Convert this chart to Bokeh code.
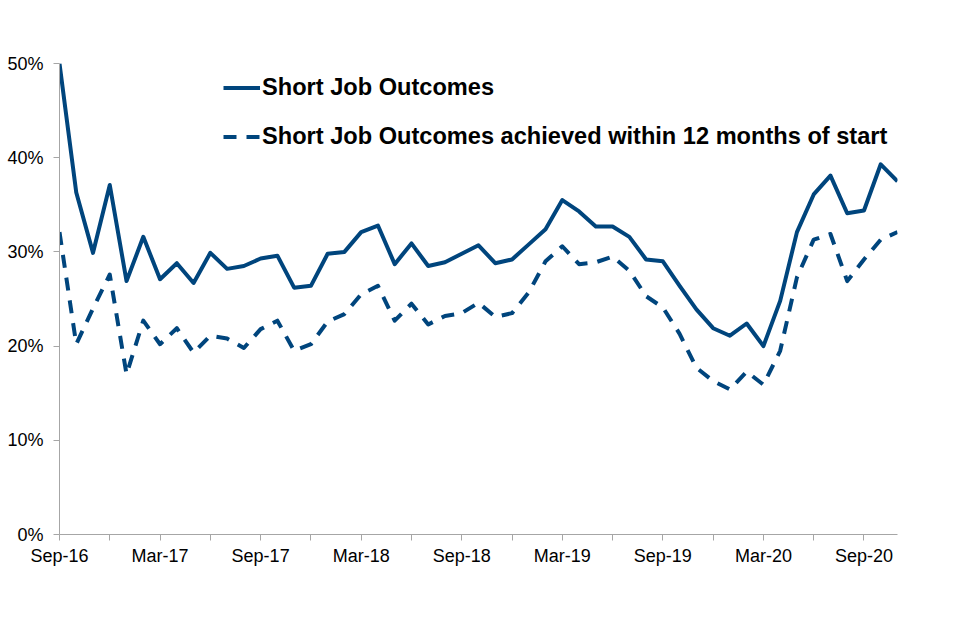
from bokeh.plotting import figure
from bokeh.models import Range1d, FixedTicker, PrintfTickFormatter, Legend, LegendItem
from bokeh.embed import file_html
from bokeh.resources import INLINE

# ---- data ----
months = [
    "Sep-16", "Oct-16", "Nov-16", "Dec-16", "Jan-17", "Feb-17", "Mar-17", "Apr-17", "May-17", "Jun-17",
    "Jul-17", "Aug-17", "Sep-17", "Oct-17", "Nov-17", "Dec-17", "Jan-18", "Feb-18", "Mar-18", "Apr-18",
    "May-18", "Jun-18", "Jul-18", "Aug-18", "Sep-18", "Oct-18", "Nov-18", "Dec-18", "Jan-19", "Feb-19",
    "Mar-19", "Apr-19", "May-19", "Jun-19", "Jul-19", "Aug-19", "Sep-19", "Oct-19", "Nov-19", "Dec-19",
    "Jan-20", "Feb-20", "Mar-20", "Apr-20", "May-20", "Jun-20", "Jul-20", "Aug-20", "Sep-20", "Oct-20",
    "Nov-20",
]
short_job_outcomes = [
    50.0, 36.3, 29.9, 37.1, 26.9, 31.6, 27.1, 28.8, 26.7, 29.9,
    28.2, 28.5, 29.3, 29.6, 26.2, 26.4, 29.8, 30.0, 32.1, 32.8,
    28.7, 30.9, 28.5, 28.9, 29.8, 30.7, 28.8, 29.2, 30.8, 32.4,
    35.5, 34.3, 32.7, 32.7, 31.6, 29.2, 29.0, 26.4, 23.9, 21.9,
    21.1, 22.4, 20.0, 24.8, 32.1, 36.1, 38.1, 34.1, 34.4, 39.3,
    37.5,
]
within_12_months = [
    32.1, 20.2, 24.0, 27.6, 17.0, 22.7, 20.2, 21.9, 19.3, 21.1,
    20.8, 19.8, 21.8, 22.7, 19.5, 20.2, 22.6, 23.4, 25.5, 26.4,
    22.7, 24.5, 22.3, 23.2, 23.5, 24.6, 23.1, 23.5, 25.7, 29.0,
    30.6, 28.7, 28.9, 29.5, 28.0, 25.3, 24.1, 21.3, 17.7, 16.3,
    15.4, 17.3, 15.9, 19.5, 27.3, 31.3, 31.9, 26.9, 29.2, 31.3,
    32.1,
]
y_ticks = [0, 10, 20, 30, 40, 50]
series_names = ["Short Job Outcomes", "Short Job Outcomes achieved within 12 months of start"]

# ---- styling ----
LINE = "#00457d"
AXIS = "#a6a6a6"
FONT = "Liberation Sans"

x = list(range(len(months)))
major_idx = [i for i in x if i % 6 == 0]
minor_idx = [i for i in x if i % 6 == 3]

p = figure(
    width=917, height=600,
    output_backend="svg", toolbar_location=None,
    x_range=Range1d(0, len(months) - 1), y_range=Range1d(0, 50),
    min_border_left=59, min_border_top=63, min_border_right=20, min_border_bottom=66,
)
p.outline_line_color = None
p.xgrid.visible = False
p.ygrid.visible = False
p.background_fill_color = "white"
p.border_fill_color = "white"

r1 = p.line(x, short_job_outcomes, line_color=LINE, line_width=4, line_join="round")
r2 = p.line(x, within_12_months, line_color=LINE, line_width=4, line_dash="13 10", line_join="round")

# x axis
xa = p.xaxis[0]
xa.ticker = FixedTicker(ticks=major_idx, minor_ticks=minor_idx)
xa.major_label_overrides = {i: months[i] for i in major_idx}
xa.axis_line_color = AXIS
xa.major_tick_line_color = AXIS
xa.minor_tick_line_color = AXIS
xa.major_tick_out = 6
xa.major_tick_in = 0
xa.minor_tick_out = 6
xa.minor_tick_in = 0
xa.major_label_standoff = 5
xa.major_label_text_font = FONT
xa.major_label_text_font_size = "18px"
xa.major_label_text_color = "black"

# y axis
ya = p.yaxis[0]
ya.ticker = FixedTicker(ticks=y_ticks, minor_ticks=[])
ya.formatter = PrintfTickFormatter(format="%d%%")
ya.axis_line_color = AXIS
ya.major_tick_line_color = AXIS
ya.minor_tick_line_color = None
ya.major_tick_out = 6
ya.major_tick_in = 0
ya.major_label_standoff = 10
ya.major_label_text_font = FONT
ya.major_label_text_font_size = "18px"
ya.major_label_text_color = "black"

legend = Legend(
    items=[LegendItem(label=series_names[0], renderers=[r1]),
           LegendItem(label=series_names[1], renderers=[r2])],
    location=(164, 384),
    margin=0, padding=0,
    glyph_width=37, glyph_height=27, label_height=27,
    label_standoff=2, spacing=22,
    label_text_font=FONT, label_text_font_size="23.6px", label_text_font_style="bold",
    label_text_color="black",
    border_line_color=None, background_fill_alpha=0,
)
p.add_layout(legend)

open("out.html", "w").write(file_html(p, INLINE))
